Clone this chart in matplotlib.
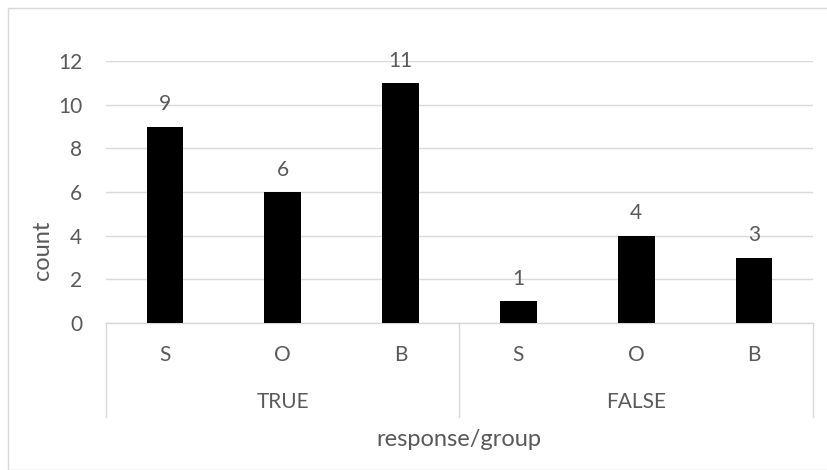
import matplotlib
matplotlib.use("Agg")
import matplotlib.pyplot as plt
from matplotlib.patches import Rectangle
from matplotlib.transforms import blended_transform_factory

# Data
groups = ["TRUE", "FALSE"]
subgroups = ["S", "O", "B"]
counts = [9, 6, 11, 1, 4, 3]
y_ticks = [0, 2, 4, 6, 8, 10, 12]

TEXT = "#595959"
GRID = "#D9D9D9"
FONT = ["Lato", "DejaVu Sans"]
TICK_FS = 15
TITLE_FS = 17

plt.rcParams["font.family"] = FONT

W, H = 828, 470
fig = plt.figure(figsize=(W / 100, H / 100), dpi=100)

# Chart border
fig.patches.append(Rectangle((8 / W, 0), 1, 1 - 8 / H, transform=fig.transFigure,
                             fill=False, edgecolor=GRID, linewidth=1.0))

left, right, top, bottom = 106, 813, 61, 323
ax = fig.add_axes([left / W, 1 - bottom / H, (right - left) / W, (bottom - top) / H])

n = len(counts)
xs = list(range(n))
ax.bar(xs, counts, width=0.31, color="black", zorder=3)
for x, v in zip(xs, counts):
    ax.annotate(str(v), (x, v), xytext=(0, 16), textcoords="offset points",
                ha="center", va="center", fontsize=TICK_FS, color=TEXT)

ax.set_xlim(-0.5, n - 0.5)
ax.set_ylim(0, 12)
ax.set_yticks(y_ticks)
ax.set_yticklabels([str(t) for t in y_ticks], fontsize=TICK_FS, color=TEXT)
ax.tick_params(axis="y", length=0, pad=17)
ax.set_xticks([])
ax.grid(axis="y", color=GRID, linewidth=1.0, zorder=0)
for s in ax.spines.values():
    s.set_visible(False)

# Multi-level category axis
trans = blended_transform_factory(ax.transData, ax.transAxes)
ax.plot([-0.5, n - 0.5], [0, 0], color=GRID, linewidth=1.0, transform=trans,
        clip_on=False, zorder=2)
sep_bottom = -(417 - bottom) / (bottom - top)
for xsep in [-0.5, 2.5, n - 0.5]:
    ax.plot([xsep, xsep], [0, sep_bottom], color=GRID, linewidth=1.0,
            transform=trans, clip_on=False)

sub_y = -(355 - bottom) / (bottom - top)
grp_y = -(402 - bottom) / (bottom - top)
for i, x in enumerate(xs):
    ax.text(x, sub_y, subgroups[i % 3], ha="center", va="center",
            fontsize=TICK_FS, color=TEXT, transform=trans)
for g, name in enumerate(groups):
    ax.text(3 * g + 1, grp_y, name, ha="center", va="center",
            fontsize=TICK_FS, color=TEXT, transform=trans)

# Axis titles
fig.text(459 / W, 1 - 440 / H, "response/group", ha="center", va="center",
         fontsize=TITLE_FS, color=TEXT)
fig.text(42 / W, 1 - 250 / H, "count", ha="center", va="center",
         fontsize=TITLE_FS, color=TEXT, rotation=90)

fig.savefig("out.png", dpi=100, facecolor="white")
